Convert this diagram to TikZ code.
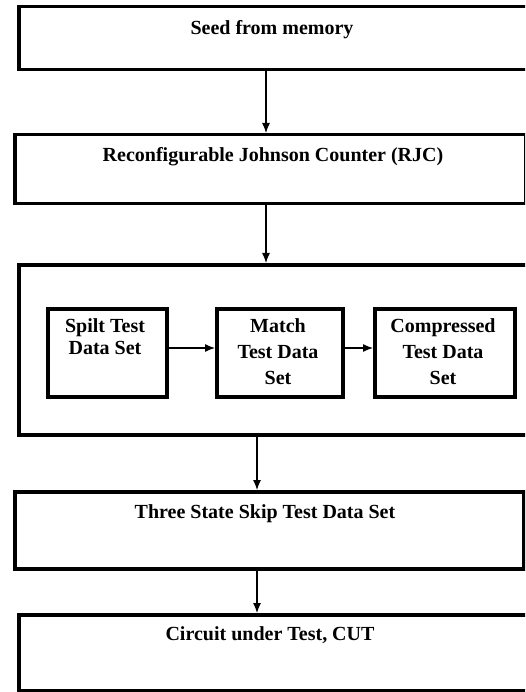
\documentclass[tikz,border=0pt]{standalone}
\usepackage{fontspec}
\setmainfont{Liberation Serif}
\usetikzlibrary{arrows.meta}
\begin{document}
\begin{tikzpicture}[x=1pt,y=-1pt,
  blk/.style={draw=black,line width=3.5pt},
  txt/.style={font=\fontsize{20}{26}\selectfont\bfseries,align=center,inner sep=0pt},
  arr/.style={line width=1.2pt,-{Latex[length=10pt,width=8pt]}}]
\useasboundingbox (0,0) rectangle (525,692);
\clip (0,0) rectangle (525,692);
\fill[white] (0,0) rectangle (525,692);
% main boxes
\node[blk,minimum width=518pt,minimum height=63pt,inner sep=0pt,anchor=north west] (b1) at (17,5) {};
\node[blk,minimum width=511pt,minimum height=69pt,inner sep=0pt,anchor=north west] (b2) at (13,133) {};
\node[blk,minimum width=518pt,minimum height=170pt,inner sep=0pt,anchor=north west] (b3) at (17,263) {};
\node[blk,minimum width=509pt,minimum height=77pt,inner sep=0pt,anchor=north west] (b4) at (13,490) {};
\node[blk,minimum width=518pt,minimum height=76pt,inner sep=0pt,anchor=north west] (b5) at (17,613) {};
% inner boxes
\node[blk,minimum width=119pt,minimum height=88pt,inner sep=0pt,anchor=north west] (ia) at (46,307) {};
\node[blk,minimum width=126pt,minimum height=88pt,inner sep=0pt,anchor=north west] (ib) at (215,307) {};
\node[blk,minimum width=140pt,minimum height=88pt,inner sep=0pt,anchor=north west] (ic) at (373,307) {};
% texts
\node[txt] (t1) at (272,30) {Seed from memory};
\node[txt] (t2) at (273,157) {Reconfigurable Johnson Counter (RJC)};
\node[txt] (t4) at (265,514) {Three State Skip Test Data Set};
\node[txt] (t5) at (270,635) {Circuit under Test, CUT};
\node[txt,anchor=north,font=\fontsize{20}{22}\selectfont\bfseries] (ta) at (105,318) {Spilt Test\\Data Set};
\node[txt,anchor=north] (tb) at (278,318) {Match\\Test Data\\Set};
\node[txt,anchor=north] (tc) at (443,318) {Compressed\\Test Data\\Set};
% arrows
\draw[arr] (b1.south -| 266,0) -- (b2.north -| 266,0);
\draw[arr] (b2.south -| 266,0) -- (b3.north -| 266,0);
\draw[arr] (b3.south -| 257,0) -- (b4.north -| 257,0);
\draw[arr] (b4.south -| 257,0) -- (b5.north -| 257,0);
\draw[arr] (ia.east |- 0,348) -- (ib.west |- 0,348);
\draw[arr] (ib.east |- 0,348) -- (ic.west |- 0,348);
\end{tikzpicture}
\end{document}
